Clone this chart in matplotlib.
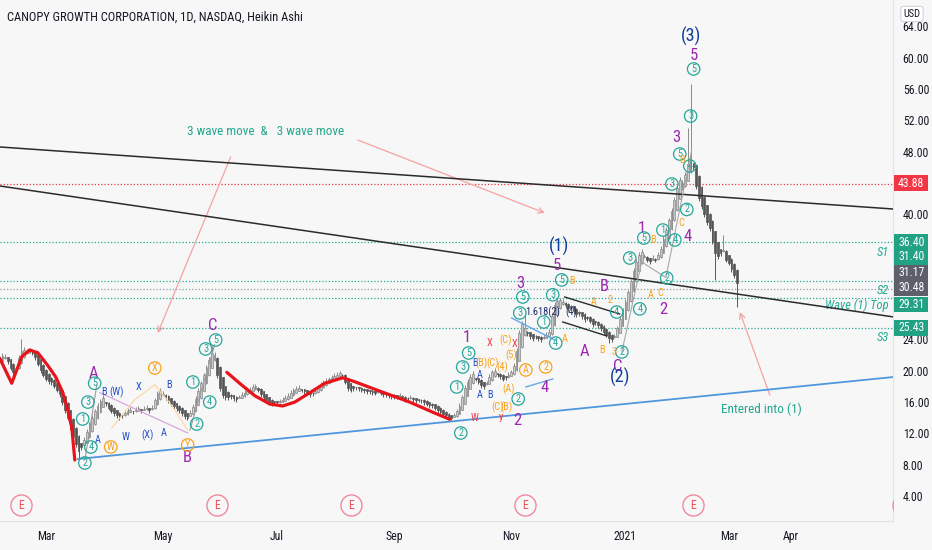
import numpy as np
import pandas as pd
import matplotlib
matplotlib.use('Agg')
import matplotlib.pyplot as plt
from matplotlib.patches import Rectangle
from matplotlib.transforms import blended_transform_factory
from matplotlib import font_manager

wanted = ['Roboto Condensed', 'PT Sans Narrow', 'Fira Sans Condensed', 'Open Sans Condensed',
          'Archivo Narrow', 'Ubuntu Condensed', 'Liberation Sans Narrow', 'Encode Sans Condensed']
have = {f.name for f in font_manager.fontManager.ttflist}
families = [f for f in wanted if f in have] + ['Liberation Sans', 'DejaVu Sans']
plt.rcParams['font.family'] = families

# Heikin Ashi close, one value per trading day
feb20 = [21.4, 21.9, 21.8, 21.2, 20.4, 19.8, 20.3, 21.6, 22.5, 22.7, 22.4, 22.6, 22.3, 21.7, 20.9, 20.1, 19.5]
mar20 = [19.0, 18.7, 18.5, 18.1, 17.6, 17.0, 16.0, 15.0, 14.0, 12.8, 11.6, 10.6, 9.8, 10.2, 11.2, 12.2,
         13.1, 14.0, 14.8, 15.5, 16.1, 16.5]
apr20 = [15.9, 15.3, 14.9, 14.6, 14.3, 14.1, 14.3, 14.6, 14.9, 15.0, 14.8, 15.0, 15.2, 15.0, 15.1, 15.3,
         15.0, 15.3, 16.2, 17.1, 17.4]
may20 = [17.0, 16.6, 16.2, 15.8, 15.5, 15.2, 15.0, 14.6, 14.2, 14.0, 14.6, 15.4, 16.4, 17.4, 18.4, 19.4,
         20.4, 21.4, 22.3, 22.0]
jun20 = [19.4, 17.8, 16.9, 16.6, 16.6, 16.8, 16.5, 16.4, 16.6, 16.9, 17.2, 17.4, 17.6, 17.9, 18.0, 17.6,
         17.0, 16.6, 16.2, 16.0, 15.9, 16.0]
jul20 = [16.0, 16.1, 16.3, 16.5, 16.8, 17.2, 17.5, 17.7, 17.8, 17.6, 17.4, 17.2, 17.0, 17.1, 17.4, 17.8,
         18.2, 18.5, 18.7, 18.9, 19.1, 19.3]
aug20 = [19.5, 19.7, 19.4, 18.6, 17.8, 17.6, 17.8, 17.9, 17.8, 17.6, 17.5, 17.4, 17.4, 17.3, 17.2, 17.3,
         17.2, 17.0, 17.0, 16.9, 16.8]
sep20 = [16.8, 16.7, 16.8, 16.6, 16.4, 16.5, 16.6, 16.4, 16.2, 16.3, 16.2, 16.0, 15.8, 15.6, 15.6, 15.3,
         15.0, 14.7, 14.5, 14.3, 14.1]
oct20 = [14.0, 14.3, 14.8, 15.5, 16.6, 17.8, 18.6, 19.2, 19.6, 19.0, 18.6, 18.2, 18.0, 18.4, 19.2, 19.8,
         20.0, 19.6, 19.3, 19.0, 19.2, 19.5]
nov20 = [19.8, 20.6, 22.5, 24.8, 26.0, 25.5, 24.8, 24.4, 24.2, 24.4, 24.2, 24.0, 24.3, 24.6, 25.0, 27.0,
         28.4, 28.9, 29.0, 28.8]
dec20 = [28.4, 28.0, 28.2, 27.6, 27.2, 27.4, 27.0, 26.6, 26.8, 26.4, 26.0, 26.2, 25.8, 25.4, 25.0, 24.6,
         24.2, 24.0, 24.4, 25.4, 26.6, 27.6]
jan21 = [28.8, 30.0, 31.4, 32.8, 33.9, 34.8, 35.2, 34.6, 34.2, 34.0, 34.4, 34.2, 34.8, 35.6, 36.8, 38.0,
         39.2, 40.4, 41.8]
feb21 = [43.4, 44.4, 44.0, 45.0, 46.4, 47.6, 46.0, 43.6, 42.0, 41.0, 40.0, 39.0, 38.2, 36.5, 35.0, 34.6,
         35.0, 35.4, 34.2]
mar21 = [33.8, 33.0, 32.2, 31.2]
first_open = 21.2

# long wicks that stand out
wick_high = {'2020-02-18': 24.0, '2020-05-28': 23.2, '2020-08-04': 20.0, '2020-11-09': 27.4,
             '2021-02-05': 51.0, '2021-02-08': 56.6, '2021-02-25': 37.4}
wick_low = {'2020-03-18': 8.7, '2020-12-23': 23.6, '2021-02-22': 31.6, '2021-03-04': 28.1}

holidays = ['2020-02-17', '2020-04-10', '2020-05-25', '2020-07-03', '2020-09-07', '2020-11-26',
            '2020-12-25', '2021-01-01', '2021-01-18', '2021-02-15', '2021-04-02', '2021-05-31']
month_ticks = [('2020-03-01', 'Mar'), ('2020-05-01', 'May'), ('2020-07-01', 'Jul'), ('2020-09-01', 'Sep'),
               ('2020-11-01', 'Nov'), ('2021-01-01', '2021'), ('2021-03-01', 'Mar'), ('2021-04-01', 'Apr')]
earnings = ['2020-02-13', '2020-06-01', '2020-08-10', '2020-11-09', '2021-02-09', '2021-06-01']
price_ticks = np.arange(4, 65, 4)
hidden_ticks = [28, 32, 36, 44]   # covered by the price boxes

# drawn levels
levels = [43.88, 36.40, 31.40, 30.48, 29.31, 25.43]
level_colors = ['#f23645', '#22ab94', '#22ab94', '#8d9aa5', '#22ab94', '#22ab94']
box_values = ['43.88', '36.40', '31.40', '31.17', '30.48', '29.31', '25.43']
box_prices = [43.97, 36.44, 34.53, 32.55, 30.57, 28.45, 25.46]   # stacked like the price scale shows them
box_colors = ['#f23645', '#22a284', '#22a284', '#5d606b', '#5d606b', '#22a284', '#22a284']

# trend lines (bar index, price)
black1 = ([0, 330], [48.58, 40.62])
black2 = ([0, 330], [43.60, 26.80])
blue1 = ([28.7, 330], [8.73, 19.25])

# hand-drawn red paths
red1_x = [0, 4.4, 8.1, 11.0, 14.0, 17.6, 20.6, 23.2, 25.0, 26.5, 27.6]
red1_y = [21.6, 18.4, 21.8, 22.65, 22.3, 20.7, 19.2, 17.2, 15.0, 12.7, 8.6]
red2_x = [83.5, 88.2, 93.8, 99.3, 104, 108.5, 114, 119.5, 126.1, 130.5, 139.7, 150.7, 159.9, 165.4]
red2_y = [19.8, 18.4, 16.8, 15.75, 15.5, 16.0, 17.2, 18.4, 19.1, 18.6, 17.4, 16.0, 14.6, 13.8]

ha_close = (feb20 + mar20 + apr20 + may20 + jun20 + jul20 + aug20 + sep20 + oct20 + nov20 + dec20
            + jan21 + feb21 + mar21)
n = len(ha_close)

days = pd.bdate_range('2020-02-05', '2021-06-30')
days = days[~days.isin(pd.to_datetime(holidays))]
dates = days[:n]

c = np.array(ha_close)
o = np.empty(n)
o[0] = first_open
for i in range(1, n):
    o[i] = (o[i - 1] + c[i - 1]) / 2
up = c >= o
hi = np.maximum(o, c) + np.where(up, 0.35, 0.08)
lo = np.minimum(o, c) - np.where(up, 0.08, 0.35)
for d, v in wick_high.items():
    hi[dates.get_loc(pd.Timestamp(d))] = v
for d, v in wick_low.items():
    lo[dates.get_loc(pd.Timestamp(d))] = v
x = np.arange(n)


def bar_of(d):
    return int(np.argmax(days >= pd.Timestamp(d)))


bg = '#f7f7f7'
fig = plt.figure(figsize=(9.32, 5.5), dpi=100, facecolor=bg)
ax = fig.add_axes([0, 29 / 550, 893 / 932, 521 / 550], facecolor=bg)
ax.set_xlim(0.1, 328.4)
ax.set_ylim(0.81, 67.35)

# candles
ax.vlines(x[up], lo[up], hi[up], color='#8a8a8a', lw=0.7, zorder=2)
ax.vlines(x[~up], lo[~up], hi[~up], color='#555555', lw=0.7, zorder=2)
body = np.maximum(np.abs(c - o), 0.08)
ax.bar(x[up], body[up], bottom=np.minimum(o, c)[up], width=0.62, color='#cbcbcb',
       edgecolor='#858585', lw=0.5, zorder=3)
ax.bar(x[~up], body[~up], bottom=np.minimum(o, c)[~up], width=0.62, color='#555555',
       edgecolor='#555555', lw=0.5, zorder=3)

# levels
for lv, col in zip(levels, level_colors):
    ax.axhline(lv, color=col, lw=0.9, ls=(0, (1, 1.6)), zorder=1)
right = blended_transform_factory(ax.transAxes, ax.transData)
lab_kw = dict(transform=right, color='#22ab94', style='italic', fontsize=9, ha='right')
ax.text(0.995, 36.40 - 1.25, 'S1', va='center', **lab_kw)
ax.text(0.995, 30.48 - 0.25, 'S2', va='center', **lab_kw)
ax.text(0.995, 29.31 - 0.95, 'Wave (1) Top', va='center', **lab_kw)
ax.text(0.995, 25.43 - 1.15, 'S3', va='center', **lab_kw)

# trend lines
ax.plot(*black1, color='#2b2b2b', lw=1.1, zorder=4)
ax.plot(*black2, color='#2b2b2b', lw=1.1, zorder=4)
ax.plot(*blue1, color='#4f97dd', lw=1.3, zorder=4)
ax.plot(red1_x, red1_y, color='#e8141c', lw=2.3, zorder=4, solid_capstyle='round')
ax.plot(red2_x, red2_y, color='#e8141c', lw=2.3, zorder=4, solid_capstyle='round')

# wave drawing lines
ax.plot([31.3, 35.7], [8.6, 18.2], color='#9e9e9e', lw=0.8, zorder=4)
ax.plot([36.8, 69.1], [17.2, 12.05], color='#d7a6e0', lw=0.9, zorder=4)
ax.plot([41.2, 49.6, 57.0, 63.2, 69.1], [12.7, 16.3, 18.2, 15.6, 12.4], color='#ffd59e', lw=0.8, zorder=4)
ax.plot([69.9, 79.0], [12.4, 23.3], color='#9e9e9e', lw=0.8, zorder=4)
ax.plot([188.2, 204.0], [26.74, 23.93], color='#64a8ee', lw=1.0, zorder=4)
ax.plot([193.4, 203.3], [17.93, 18.95], color='#64a8ee', lw=1.0, zorder=4)
ax.plot([207.7, 227.9], [29.42, 27.25], color='#2b2b2b', lw=1.0, zorder=4)
ax.plot([207.0, 223.2], [26.23, 24.44], color='#2b2b2b', lw=1.0, zorder=4)
ax.plot([228.7, 236.0, 244.9, 254.4], [22.4, 33.9, 31.9, 48.2], color='#a8a8a8', lw=0.8, zorder=4)

# wave labels
purple = [('A', 34.6, 19.7), ('C', 78.3, 25.8), ('B', 69.1, 8.9), ('1', 171.7, 24.2), ('2', 190.1, 13.7),
          ('3', 191.5, 31.2), ('4', 200.4, 17.9), ('A', 215.1, 22.4), ('C', 227.2, 20.6), ('B', 222.1, 30.7),
          ('5', 204.8, 33.5), ('1', 236.0, 38.2), ('2', 243.8, 27.8), ('3', 248.9, 49.85), ('4', 252.9, 37.1),
          ('5', 255.1, 60.3)]
for s, xx, yy in purple:
    ax.text(xx, yy, s, color='#9c27b0', fontsize=12, ha='center', va='center', zorder=6)
for s, xx, yy in [('(1)', 205.5, 35.9), ('(2)', 227.9, 19.2), ('(3)', 254.0, 62.75)]:
    ax.text(xx, yy, s, color='#0d3c9e', fontsize=13, ha='center', va='center', zorder=6)

teal_circ = [('5', 34.9, 18.4), ('3', 32.4, 16.0), ('1', 30.5, 13.84), ('4', 33.5, 10.26), ('2', 31.3, 8.22),
             ('1', 71.0, 18.56), ('3', 75.7, 22.78), ('5', 79.4, 23.93), ('2', 72.4, 13.2), ('4', 77.2, 16.0),
             ('5', 172.4, 22.27), ('3', 170.2, 20.48), ('1', 168.0, 17.93), ('2', 169.5, 12.05),
             ('2', 190.6, 16.4), ('5', 192.3, 29.42), ('3', 191.2, 27.38), ('1', 200.0, 26.23),
             ('3', 203.3, 29.7), ('5', 206.6, 31.6), ('4', 204.4, 23.54), ('2', 228.7, 22.4), ('4', 226.8, 27.5),
             ('3', 231.6, 34.4), ('5', 236.8, 36.95), ('4', 235.3, 27.9), ('1', 243.8, 37.97), ('4', 248.2, 36.7),
             ('2', 245.2, 31.85), ('3', 247.1, 43.85), ('5', 250.0, 47.68), ('4', 253.7, 46.15),
             ('2', 252.6, 40.6), ('3', 254.0, 52.53), ('5', 255.1, 58.54)]
orange_circ = [('W', 40.8, 10.26), ('X', 57.0, 20.35), ('Y', 69.1, 10.52), ('2', 200.7, 20.48), ('A', 193.4, 20.1)]


def circ(s, xx, yy, col):
    ax.scatter([xx], [yy], s=80, facecolors='none', edgecolors=col, linewidths=0.9, zorder=6)
    ax.text(xx, yy, s, color=col, fontsize=7.5, ha='center', va='center', zorder=6)


for s, xx, yy in teal_circ:
    circ(s, xx, yy, '#26a69a')
for s, xx, yy in orange_circ:
    circ(s, xx, yy, '#f7a21b')

small = [('B', 38.2, 17.29, '#2150c9'), ('(W)', 43.0, 17.29, '#2150c9'), ('A', 36.0, 11.15, '#2150c9'),
         ('W', 46.3, 11.54, '#2150c9'), ('X', 51.1, 17.93, '#2150c9'), ('(X)', 54.4, 11.79, '#2150c9'),
         ('B', 62.1, 18.18, '#2150c9'), ('A', 60.3, 12.05, '#2150c9'), ('B', 174.6, 21.0, '#2150c9'),
         ('A', 176.5, 19.4, '#2150c9'), ('A', 176.5, 16.9, '#2150c9'), ('B', 180.1, 16.9, '#2150c9'),
         ('B', 210.3, 31.46, '#f7a21b'), ('A', 207.7, 24.1, '#f7a21b'), ('B', 221.3, 22.6, '#f7a21b'),
         ('3', 225.7, 22.4, '#f7a21b'), ('2', 224.3, 29.04, '#f7a21b'), ('A', 218.4, 28.78, '#f7a21b'),
         ('B', 240.1, 36.7, '#f7a21b'), ('A', 239.3, 29.7, '#f7a21b'), ('C', 243.0, 29.9, '#f7a21b'),
         ('B', 250.7, 46.9, '#f7a21b'), ('C', 250.6, 38.9, '#f7a21b'), ('(B)', 177.2, 21.0, '#f7a21b'),
         ('(C)', 181.3, 21.0, '#f7a21b'), ('(4)', 184.9, 20.48, '#f7a21b'), ('(C)', 185.9, 23.9, '#f7a21b'),
         ('(5)', 188.2, 22.0, '#f7a21b'), ('(B)', 186.4, 15.37, '#f7a21b'), ('(C)', 183.1, 15.37, '#f7a21b'),
         ('(A)', 187.0, 17.6, '#f7a21b'), ('X', 180.1, 23.54, '#f23645'), ('X', 189.4, 23.4, '#f23645'),
         ('W', 174.6, 13.97, '#f23645'), ('y', 184.2, 14.1, '#f23645'), ('1.618(2)', 199.5, 27.5, '#1a2a6c'),
         ('(4)', 210.0, 27.5, '#1a2a6c')]
for s, xx, yy, col in small:
    ax.text(xx, yy, s, color=col, fontsize=7.5, ha='center', va='center', zorder=6)

# notes and arrows
teal = '#22a88f'
pink = '#f4a3a3'
ax.text(97.8, 50.6, '3 wave move  &   3 wave move', color=teal, fontsize=9.5, ha='center', va='center')
ax.annotate('', xy=(58.1, 24.8), xytext=(84.9, 47.3),
            arrowprops=dict(arrowstyle='->', color=pink, lw=0.9, shrinkA=0, shrinkB=0))
ax.annotate('', xy=(200.4, 40.15), xytext=(131.6, 49.47),
            arrowprops=dict(arrowstyle='->', color=pink, lw=0.9, shrinkA=0, shrinkB=0))
ax.annotate('', xy=(272.1, 27.5), xytext=(283.1, 16.9),
            arrowprops=dict(arrowstyle='->', color=pink, lw=0.9, shrinkA=0, shrinkB=0))
ax.text(280.1, 15.1, 'Entered into (1)', color=teal, fontsize=9.5, ha='center', va='center')

# earnings markers
ex = [bar_of(d) for d in earnings]
ex[0] = 7.7
ax.scatter(ex, [2.85] * len(ex), s=230, facecolors=bg, edgecolors='#f0899b', linewidths=1.0, zorder=5)
for xx in ex[:-1]:
    ax.text(xx, 2.85, 'E', color='#e8505b', fontsize=8.5, ha='center', va='center', zorder=6)

ax.text(0.008, 0.966, 'CANOPY GROWTH CORPORATION, 1D, NASDAQ, Heikin Ashi', transform=ax.transAxes,
        fontsize=9, color='#131722', va='center', ha='left')

# axes
for side in ['top', 'left']:
    ax.spines[side].set_visible(False)
ax.spines['right'].set_color('#e0e3eb')
ax.spines['bottom'].set_color('#e0e3eb')
ax.yaxis.tick_right()
ax.set_yticks(price_ticks)
ax.set_yticklabels(['' if v in hidden_ticks else f'{v:.2f}' for v in price_ticks])
ax.tick_params(axis='y', length=0, pad=7, labelsize=8.5, labelcolor='#131722')
ax.set_xticks([bar_of(d) for d, _ in month_ticks])
ax.set_xticklabels([])
ax.tick_params(axis='x', length=0)
for d, lab in month_ticks:
    ax.text(bar_of(d), -0.037, lab, transform=blended_transform_factory(ax.transData, ax.transAxes),
            fontsize=8.5, color='#131722', ha='center', va='baseline')

# price boxes on the scale
for val, pr, col in zip(box_values, box_prices, box_colors):
    ax.add_patch(Rectangle((1.001, pr - 0.98), 0.038, 1.96, transform=right, facecolor=col,
                           edgecolor='none', clip_on=False, zorder=7))
    ax.text(1.0205, pr, val, transform=right, color='white', fontsize=8.5, ha='center', va='center',
            zorder=8, clip_on=False)
fig.text(912 / 932, 1 - 14 / 550, 'USD', fontsize=7.5, color='#131722', ha='center', va='center',
         bbox=dict(boxstyle='round,pad=0.25', facecolor='white', edgecolor='#d1d4dc', lw=0.8))

fig.savefig('out.png', dpi=100, facecolor=bg)
